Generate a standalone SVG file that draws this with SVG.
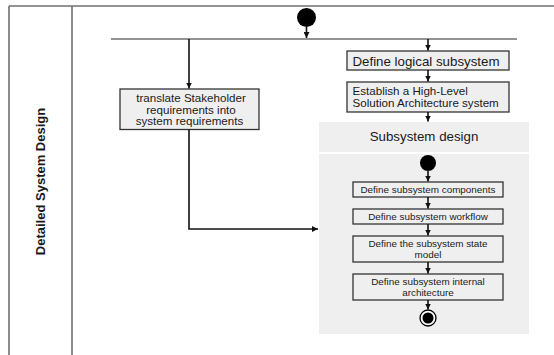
<svg xmlns="http://www.w3.org/2000/svg" width="554" height="355" viewBox="0 0 554 355">
<defs>
<marker id="ah" viewBox="0 0 6 6" refX="6" refY="3" markerWidth="6" markerHeight="6" markerUnits="userSpaceOnUse" orient="auto">
<path d="M0,0 L6,3 L0,6 z" fill="#111"/>
</marker>
<style>
.lane{stroke:#6f6f6f;stroke-width:1.6;fill:none}
.box{fill:#efefef;stroke:#333;stroke-width:1.3}
.panel{fill:#efefef;stroke:none}
.t{font-family:"Liberation Sans",Arial,sans-serif;fill:#1a1a1a}
.c{stroke:#111;stroke-width:1.6;fill:none}
</style>
</defs>
<rect width="554" height="355" fill="#fff"/>
<g id="lanes">
<line class="lane" x1="9" y1="6" x2="554" y2="6"/>
<line class="lane" x1="9" y1="6" x2="9" y2="355"/>
<line class="lane" x1="72" y1="6" x2="72" y2="355"/>
<text class="t" transform="translate(45,181.5) rotate(-90)" text-anchor="middle" font-size="13" font-weight="bold">Detailed System Design</text>
</g>
<g id="fork"><line class="lane" x1="111" y1="39" x2="517" y2="39"/></g>
<g id="start"><ellipse cx="306.5" cy="17.5" rx="9.5" ry="9.5" fill="#000"/></g>
<g id="translate">
<rect class="box" x="120" y="89" width="139" height="40.5"/>
<text class="t" font-size="11.6" text-anchor="middle"><tspan x="191" y="102">translate Stakeholder</tspan><tspan x="191" y="113.5">requirements into</tspan><tspan x="189.5" y="125">system requirements</tspan></text>
</g>
<g id="logical">
<rect class="box" x="347" y="51" width="162" height="19"/>
<text class="t" font-size="13.3" text-anchor="middle" x="426" y="65.5">Define logical subsystem</text>
</g>
<g id="establish">
<rect class="box" x="347" y="82" width="162" height="30"/>
<text class="t" font-size="11.6"><tspan x="352.5" y="95">Establish a High-Level</tspan><tspan x="352.5" y="107">Solution Architecture system</tspan></text>
</g>
<g id="subsystem-design">
<rect class="panel" x="319" y="122" width="210" height="30"/>
<text class="t" font-size="13.3" text-anchor="middle" x="424" y="141">Subsystem design</text>
<rect class="panel" x="319" y="154" width="210" height="180"/>
</g>
<g id="start2"><ellipse cx="428" cy="163" rx="8" ry="8" fill="#000"/></g>
<g id="components">
<rect class="box" x="353" y="182" width="150" height="15"/>
<text class="t" font-size="9.9" text-anchor="middle" x="428" y="192.8">Define subsystem components</text>
</g>
<g id="workflow">
<rect class="box" x="353" y="209" width="150" height="15"/>
<text class="t" font-size="9.9" text-anchor="middle" x="428" y="219.8">Define subsystem workflow</text>
</g>
<g id="state">
<rect class="box" x="353" y="236" width="150" height="26"/>
<text class="t" font-size="9.9" text-anchor="middle"><tspan x="428" y="247">Define the subsystem state</tspan><tspan x="428" y="258">model</tspan></text>
</g>
<g id="internal">
<rect class="box" x="353" y="274" width="150" height="26"/>
<text class="t" font-size="9.9" text-anchor="middle"><tspan x="428" y="285">Define subsystem internal</tspan><tspan x="428" y="296">architecture</tspan></text>
</g>
<g id="end"><circle cx="428" cy="318" r="8" fill="#fff" stroke="#000" stroke-width="1.3"/><circle cx="428" cy="318" r="5.5" fill="#000"/></g>
<g id="connectors">
<line class="c" x1="306.5" y1="27" x2="306.5" y2="38" marker-end="url(#ah)"/>
<line class="c" x1="189" y1="39" x2="189" y2="88.5" marker-end="url(#ah)"/>
<polyline class="c" points="189,129.5 189,229 318,229" marker-end="url(#ah)"/>
<line class="c" x1="428" y1="39" x2="428" y2="50.5" marker-end="url(#ah)"/>
<line class="c" x1="428" y1="70" x2="428" y2="81.5" marker-end="url(#ah)"/>
<line class="c" x1="428" y1="112" x2="428" y2="121.5" marker-end="url(#ah)"/>
<line class="c" x1="428" y1="171" x2="428" y2="181.5" marker-end="url(#ah)"/>
<line class="c" x1="428" y1="197" x2="428" y2="208.5" marker-end="url(#ah)"/>
<line class="c" x1="428" y1="224" x2="428" y2="235.5" marker-end="url(#ah)"/>
<line class="c" x1="428" y1="262" x2="428" y2="273.5" marker-end="url(#ah)"/>
<line class="c" x1="428" y1="300" x2="428" y2="309.5" marker-end="url(#ah)"/>
</g>
</svg>
